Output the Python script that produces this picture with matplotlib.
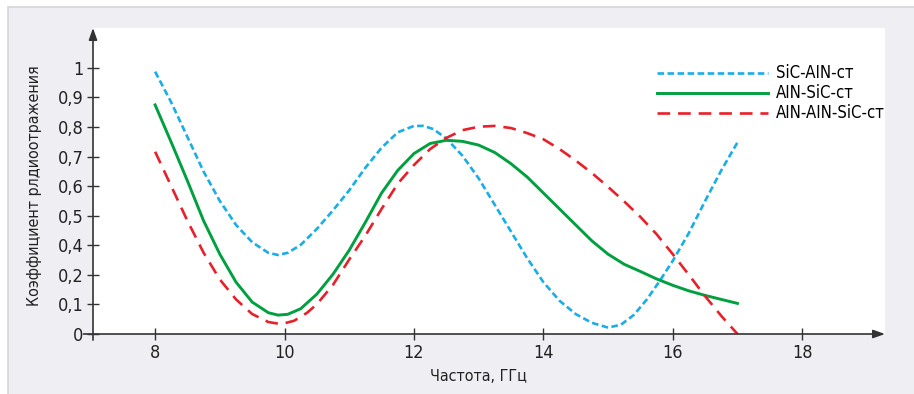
import matplotlib
matplotlib.use("Agg")
import numpy as np
from matplotlib import pyplot as plt
from matplotlib.patches import Rectangle

plt.rcParams["font.family"] = ["Liberation Sans Narrow", "DejaVu Sans"]
plt.rcParams["font.stretch"] = "condensed"

# frequency, GHz / reflection coefficient (tick positions evenly spaced 0..1)
freq_sic_aln = [8.0, 8.25, 8.5, 8.75, 9.0, 9.25, 9.5, 9.75, 9.9, 10.05, 10.25, 10.5, 10.75,
                11.0, 11.25, 11.5, 11.75, 12.0, 12.15, 12.3, 12.5, 12.75, 13.0, 13.25, 13.5,
                13.75, 14.0, 14.25, 14.5, 14.75, 15.0, 15.2, 15.4, 15.6, 15.8, 16.0, 16.25,
                16.5, 16.75, 17.0]
refl_sic_aln = [0.986, 0.87, 0.74, 0.61, 0.50, 0.41, 0.345, 0.305, 0.297, 0.305, 0.335, 0.395,
                0.465, 0.54, 0.625, 0.70, 0.758, 0.782, 0.782, 0.77, 0.735, 0.67, 0.585,
                0.485, 0.385, 0.285, 0.195, 0.125, 0.075, 0.042, 0.024, 0.035, 0.072, 0.13,
                0.20, 0.275, 0.38, 0.50, 0.615, 0.72]

freq_aln_sic = [8.0, 8.25, 8.5, 8.75, 9.0, 9.25, 9.5, 9.75, 9.9, 10.05, 10.25, 10.5, 10.75,
                11.0, 11.25, 11.5, 11.75, 12.0, 12.25, 12.5, 12.75, 13.0, 13.25, 13.5, 13.75,
                14.0, 14.25, 14.5, 14.75, 15.0, 15.25, 15.5, 15.75, 16.0, 16.25, 16.5, 16.75,
                17.0]
refl_aln_sic = [0.861, 0.72, 0.575, 0.425, 0.30, 0.195, 0.12, 0.08, 0.071, 0.074, 0.095, 0.15,
                0.225, 0.315, 0.42, 0.53, 0.615, 0.678, 0.716, 0.728, 0.724, 0.71, 0.682,
                0.64, 0.59, 0.53, 0.47, 0.41, 0.35, 0.30, 0.262, 0.235, 0.207, 0.183,
                0.162, 0.145, 0.13, 0.115]

freq_aln_aln_sic = [8.0, 8.25, 8.5, 8.75, 9.0, 9.25, 9.5, 9.75, 9.95, 10.15, 10.35, 10.5, 10.75,
                    11.0, 11.25, 11.5, 11.75, 12.0, 12.25, 12.5, 12.75, 13.0, 13.25, 13.5,
                    13.75, 14.0, 14.25, 14.5, 14.75, 15.0, 15.25, 15.5, 15.75, 16.0, 16.25,
                    16.5, 16.75, 17.0]
refl_aln_aln_sic = [0.685, 0.555, 0.425, 0.305, 0.205, 0.13, 0.075, 0.045, 0.037, 0.05, 0.08,
                    0.112, 0.185, 0.28, 0.37, 0.47, 0.565, 0.635, 0.695, 0.737, 0.766, 0.779,
                    0.782, 0.774, 0.755, 0.732, 0.695, 0.652, 0.605, 0.553, 0.498, 0.44,
                    0.375, 0.30, 0.222, 0.142, 0.068, 0.0]

xticks = [8, 10, 12, 14, 16, 18]
ytick_labels = ["0", "0,1", "0,2", "0,4", "0,5", "0,6", "0,7", "0,8", "0,9", "1"]
labels = ["SiC-AIN-ст", "AIN-SiC-ст", "AIN-AIN-SiC-ст"]

fig = plt.figure(figsize=(9.14, 3.94), dpi=100)
fig.patch.set_facecolor("white")
frame = Rectangle((8 / 914, -0.01), 1, 1 - 7 / 394 + 0.01, transform=fig.transFigure,
                  facecolor="#eeeef3", edgecolor="#d4d4da", lw=1.2, zorder=-10)
fig.add_artist(frame)

ax = fig.add_axes([93 / 914, 1 - 334 / 394, (885 - 93) / 914, (334 - 28) / 394])
ax.set_facecolor("white")

ax.plot(freq_sic_aln, refl_sic_aln, color="#1aade6", lw=1.9, dashes=(2.5, 1.3),
        label=labels[0])
ax.plot(freq_aln_sic, refl_aln_sic, color="#00a040", lw=2.1, label=labels[1])
ax.plot(freq_aln_aln_sic, refl_aln_aln_sic, color="#e8202a", lw=1.9, dashes=(4.8, 3.0),
        label=labels[2])

ax.set_xlim(7.04, 19.28)
ax.set_ylim(0, 1.15)
ax.set_xticks(xticks)
ax.set_yticks(np.linspace(0, 1, len(ytick_labels)))
ax.set_yticklabels(ytick_labels)
ax.tick_params(direction="inout", length=8, width=1.0, color="#333333",
               labelsize=13, labelcolor="#222222", pad=3)

for s in ax.spines.values():
    s.set_visible(False)

# axes with arrows
arrow = dict(arrowstyle="-|>,head_length=0.7,head_width=0.25", lw=1.2, color="#333333",
             shrinkA=0, shrinkB=0)
ax.annotate("", xy=(1.0, 0), xytext=(-0.012, 0), xycoords="axes fraction",
            arrowprops=arrow, annotation_clip=False)
ax.annotate("", xy=(0, 1.0), xytext=(0, -0.02), xycoords="axes fraction",
            arrowprops=arrow, annotation_clip=False)

ax.set_xlabel("Частота, ГГц", fontsize=11.5, color="#222222")
ax.xaxis.set_label_coords(0.487, -0.114)
ax.set_ylabel("Коэффициент рлдиоотражения", fontsize=11.5, color="#222222")
ax.yaxis.set_label_coords(-0.064, 0.485)

ax.legend(loc="upper left", bbox_to_anchor=(0.712, 0.881), frameon=False, fontsize=12,
          handlelength=6.65, handletextpad=0.48, labelspacing=0.12, borderpad=0,
          borderaxespad=0)

fig.savefig("out.png", dpi=100)
